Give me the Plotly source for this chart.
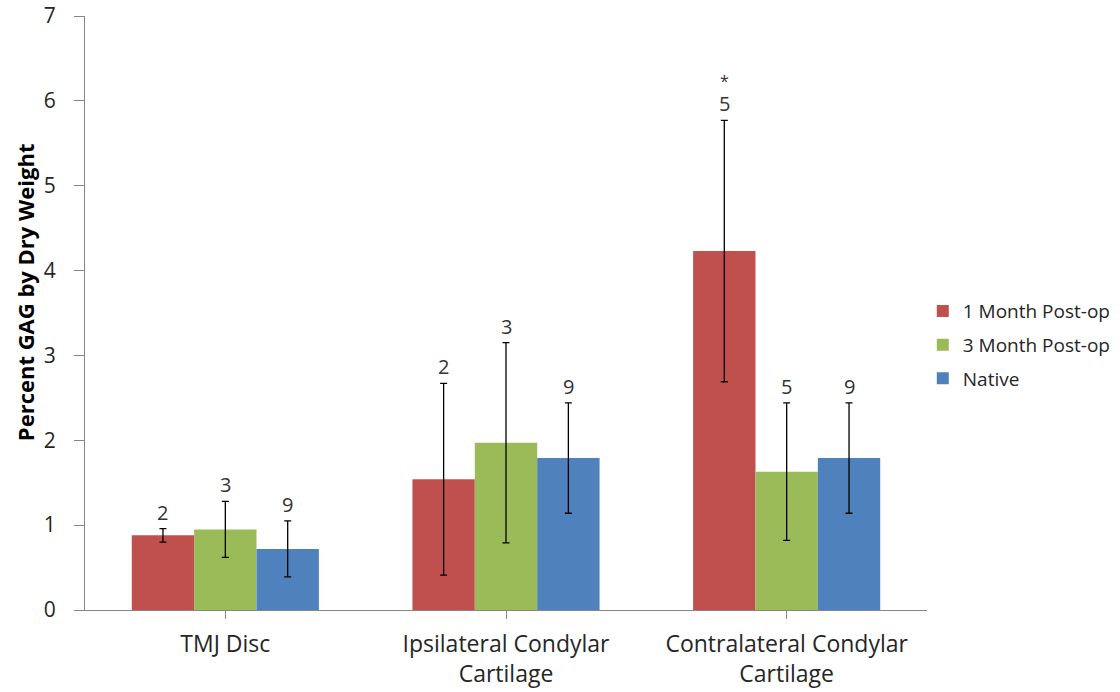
import plotly.graph_objects as go

# Tissue groups and percent GAG (dry weight) per time point
categories = ["TMJ Disc", "Ipsilateral Condylar<br>Cartilage", "Contralateral Condylar<br>Cartilage"]
series_names = ["1 Month Post-op", "3 Month Post-op", "Native"]
colors = ["#C0504D", "#9BBB59", "#4F81BD"]

month1_mean = [0.88, 1.54, 4.23]
month1_err = [0.08, 1.13, 1.54]
month3_mean = [0.95, 1.97, 1.63]
month3_err = [0.33, 1.18, 0.81]
native_mean = [0.72, 1.79, 1.79]
native_err = [0.33, 0.65, 0.65]

# sample sizes shown above each error bar, and significance markers
month1_n = ["2", "2", "5"]
month3_n = ["3", "3", "5"]
native_n = ["9", "9", "9"]
month1_sig = ["", "", "*"]
month3_sig = ["", "", ""]
native_sig = ["", "", ""]

means = [month1_mean, month3_mean, native_mean]
errs = [month1_err, month3_err, native_err]
ns = [month1_n, month3_n, native_n]
sigs = [month1_sig, month3_sig, native_sig]

font_family = "Open Sans, Noto Sans, sans-serif"
bargap = 1 / 3
bar_w = (1 - bargap) / 3

fig = go.Figure()
for name, color, m, e in zip(series_names, colors, means, errs):
    fig.add_trace(go.Bar(
        name=name,
        legendgroup=name,
        x=list(range(len(categories))),
        y=m,
        marker=dict(color=color, line=dict(width=0)),
        error_y=dict(type="data", array=e, visible=True, color="black",
                     thickness=1.3, width=3.5),
    ))

# n labels sit just above each error-bar cap, with any "*" above the n
for si, (m, e, labels, marks) in enumerate(zip(means, errs, ns, sigs)):
    offset = (si - 1) * bar_w
    for ci in range(len(categories)):
        top = m[ci] + e[ci]
        fig.add_annotation(
            x=ci + offset, y=top, xref="x", yref="y",
            text=labels[ci], showarrow=False, yanchor="bottom", yshift=1,
            font=dict(family=font_family, size=20, color="#333333"),
        )
        if marks[ci]:
            fig.add_annotation(
                x=ci + offset, y=top, xref="x", yref="y",
                text=marks[ci], showarrow=False, yanchor="bottom", yshift=27,
                font=dict(family=font_family, size=16, color="#333333"),
                borderpad=0,
            )

# vertical axis title
fig.add_annotation(
    x=-0.0713, y=0.535, xref="paper", yref="paper",
    text="<b>Percent GAG by Dry Weight</b>", textangle=-90, showarrow=False,
    xanchor="center", yanchor="middle",
    font=dict(family=font_family, size=22, color="#000000"),
)

fig.update_layout(
    width=1120, height=692,
    margin=dict(l=85, r=193, t=16, b=82, autoexpand=False),
    paper_bgcolor="white", plot_bgcolor="white",
    barmode="group", bargap=bargap, bargroupgap=0,
    font=dict(family=font_family, color="#262626"),
    legend=dict(x=0.995, y=0.446, xanchor="left", yanchor="middle",
                font=dict(size=19, color="#262626"), tracegroupgap=6),
    showlegend=True,
)
fig.update_xaxes(
    tickmode="array", tickvals=list(range(len(categories))), ticktext=categories,
    range=[-0.5, len(categories) - 0.5], automargin=False,
    showline=True, linecolor="#868686", linewidth=1,
    ticks="outside", ticklen=8, tickcolor="#868686", tickson="boundaries",
    ticklabelstandoff=5,
    tickfont=dict(size=23, color="#262626"), showgrid=False, zeroline=False,
)
fig.update_yaxes(
    range=[0, 7], dtick=1, tick0=0, automargin=False,
    showline=True, linecolor="#868686", linewidth=1,
    ticks="outside", ticklen=10, tickcolor="#868686", ticklabelstandoff=14,
    tickfont=dict(size=21, color="#262626"), showgrid=False, zeroline=False,
)

fig.write_html("out.html")
